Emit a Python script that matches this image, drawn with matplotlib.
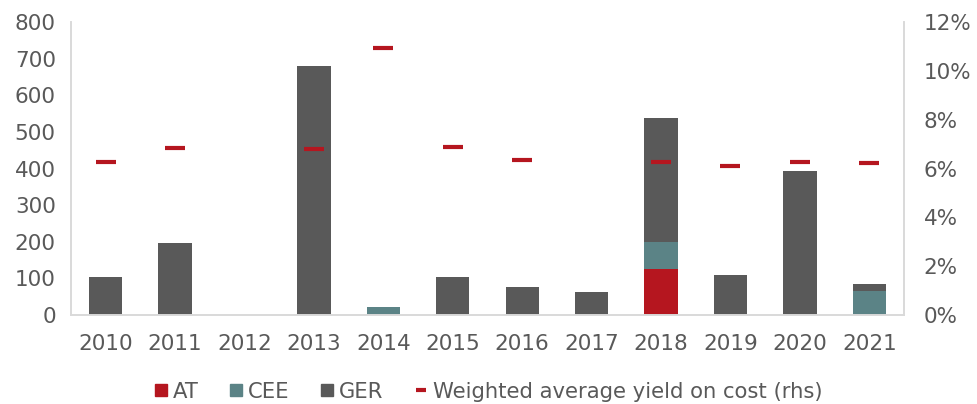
import numpy as np
import matplotlib.pyplot as plt
from matplotlib.ticker import FuncFormatter
from matplotlib.lines import Line2D

years = ['2010', '2011', '2012', '2013', '2014', '2015',
         '2016', '2017', '2018', '2019', '2020', '2021']
at = [0, 0, 0, 0, 0, 0, 0, 0, 126, 0, 0, 0]
cee = [0, 0, 0, 0, 22, 0, 0, 0, 74, 0, 0, 66]
ger = [103, 197, 0, 680, 0, 103, 77, 63, 338, 109, 393, 19]
# yield in %, nan where there were no acquisitions
yield_rhs = [6.27, 6.84, np.nan, 6.8, 10.94, 6.88, 6.35, np.nan, 6.27, 6.1, 6.27, 6.22]

c_at = '#B5161F'
c_cee = '#5B8386'
c_ger = '#595959'
c_txt = '#595959'
c_axis = '#D9D9D9'

fig = plt.figure(figsize=(9.77, 4.04), dpi=100)
ax = fig.add_axes([0.0727, 0.2203, 0.8526, 0.7252])
ax2 = ax.twinx()

x = np.arange(len(years))
w = 0.48
at_a = np.array(at)
cee_a = np.array(cee)
ger_a = np.array(ger)
ax.bar(x, at_a, w, color=c_at, label='AT')
ax.bar(x, cee_a, w, bottom=at_a, color=c_cee, label='CEE')
ax.bar(x, ger_a, w, bottom=at_a + cee_a, color=c_ger, label='GER')

ax2.plot(x, yield_rhs, linestyle='none', marker='_', markersize=14,
         markeredgewidth=3, color=c_at)

ax.set_xlim(-0.5, len(years) - 0.5)
ax.set_ylim(0, 800)
ax.set_yticks(range(0, 801, 100))
ax2.set_ylim(0, 12)
ax2.set_yticks(range(0, 13, 2))
ax2.yaxis.set_major_formatter(FuncFormatter(lambda v, p: f'{v:.0f}%'))
ax.set_xticks(x)
ax.set_xticklabels(years)

for a in (ax, ax2):
    a.spines['top'].set_visible(False)
    for s in ('left', 'right', 'bottom'):
        a.spines[s].set_color(c_axis)
        a.spines[s].set_linewidth(1.2)
    a.tick_params(length=0, labelsize=15.5, labelcolor=c_txt)
ax.tick_params(axis='y', pad=11)
ax.tick_params(axis='x', pad=14)
ax2.tick_params(axis='y', pad=14)

handles = [
    Line2D([], [], linestyle='none', marker='s', markersize=8.5, color=c_at),
    Line2D([], [], linestyle='none', marker='s', markersize=8.5, color=c_cee),
    Line2D([], [], linestyle='none', marker='s', markersize=8.5, color=c_ger),
    Line2D([], [], linestyle='none', marker='_', markersize=7.5, markeredgewidth=3, color=c_at),
]
labels = ['AT', 'CEE', 'GER', 'Weighted average yield on cost (rhs)']
fig.legend(handles, labels, loc='center', bbox_to_anchor=(0.5, 0.03), ncol=4,
           frameon=False, fontsize=15.2, labelcolor=c_txt, handlelength=0.6,
           handletextpad=0.25, columnspacing=1.5)

fig.savefig('out.png', dpi=100)
